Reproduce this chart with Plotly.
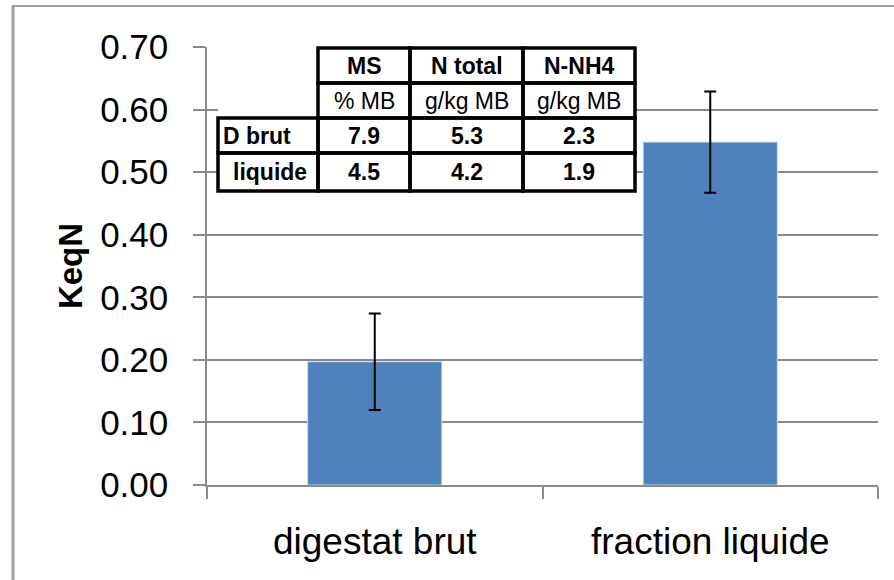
import plotly.graph_objects as go

# bar data
categories = ["digestat brut", "fraction liquide"]
keqn = [0.197, 0.548]
keqn_err = [0.077, 0.081]

# inset table
tab_cols = ["MS", "N total", "N-NH4"]
tab_units = ["% MB", "g/kg MB", "g/kg MB"]
tab_rows = ["D brut", "liquide"]
tab_vals = [["7.9", "5.3", "2.3"],
            ["4.5", "4.2", "1.9"]]

W, H = 894, 580
L, R, T, B = 207, 16, 47, 95
PW, PH = W - L - R, H - T - B

def px(x):
    return (x - L) / PW

def py(y):
    return (H - B - y) / PH

GRID = "#8a8a8a"
FONT = "Liberation Sans, Arial, sans-serif"

fig = go.Figure(go.Bar(
    x=categories, y=keqn,
    marker=dict(color="#4f81bd", line=dict(color="#d0dcea", width=1)),
    error_y=dict(type="data", array=keqn_err, color="black", thickness=2, width=6),
))

shapes = []
annotations = []

# table geometry (pixels)
col_x = [218, 318, 410, 523, 635]
row_y = [48, 83, 118, 153, 191]

# white background behind table (empty corner has no border)
shapes.append(dict(type="rect", xref="paper", yref="paper", layer="above",
                   x0=px(col_x[0]), x1=px(col_x[-1]), y0=py(row_y[0]), y1=py(row_y[-1]),
                   fillcolor="white", line=dict(width=0)))

def cell(r, c, text, bold, align="center", indent=0):
    shapes.append(dict(type="rect", xref="paper", yref="paper", layer="above",
                       x0=px(col_x[c]), x1=px(col_x[c + 1]),
                       y0=py(row_y[r]), y1=py(row_y[r + 1]),
                       line=dict(color="black", width=3.5), fillcolor="rgba(0,0,0,0)"))
    if align == "left":
        xa = px(col_x[c] + 3 + indent)
        xanchor = "left"
    else:
        xa = px((col_x[c] + col_x[c + 1]) / 2)
        xanchor = "center"
    annotations.append(dict(xref="paper", yref="paper", x=xa, xanchor=xanchor,
                            y=py((row_y[r] + row_y[r + 1]) / 2), yanchor="middle",
                            text="<b>%s</b>" % text if bold else text, showarrow=False,
                            font=dict(family=FONT, size=23, color="black")))

for j, name in enumerate(tab_cols):
    cell(0, j + 1, name, True)
    cell(1, j + 1, tab_units[j], False)
for i, name in enumerate(tab_rows):
    cell(i + 2, 0, name, True, align="left", indent=10 * i)
    for j, v in enumerate(tab_vals[i]):
        cell(i + 2, j + 1, v, True)

# outer frame of the chart area
shapes.append(dict(type="line", xref="paper", yref="paper", layer="above",
                   x0=px(12), x1=px(W), y0=py(6), y1=py(6),
                   line=dict(color="#a0a0a0", width=2)))
shapes.append(dict(type="line", xref="paper", yref="paper", layer="above",
                   x0=px(13), x1=px(13), y0=py(6), y1=py(H),
                   line=dict(color="#a0a0a0", width=3)))

fig.update_layout(
    width=W, height=H,
    margin=dict(l=L, r=R, t=T, b=B, autoexpand=False),
    paper_bgcolor="white", plot_bgcolor="white",
    bargap=0.6, showlegend=False,
    shapes=shapes, annotations=annotations,
    xaxis=dict(showline=True, linecolor=GRID, linewidth=1.5,
               ticks="outside", tickson="boundaries", ticklen=12, tickcolor=GRID, tickwidth=1.5,
               tickfont=dict(family=FONT, size=37, color="black"),
               ticklabelstandoff=23, showgrid=False),
    yaxis=dict(range=[0, 0.7], dtick=0.1, tickformat=".2f",
               showline=True, linecolor=GRID, linewidth=1.5,
               ticks="outside", ticklen=12, tickcolor=GRID, tickwidth=1.5,
               tickfont=dict(family=FONT, size=35, color="black"), ticklabelstandoff=18,
               showgrid=True, gridcolor=GRID, gridwidth=1.5, zeroline=False,
               title=dict(text="<b>KeqN</b>", standoff=8,
                          font=dict(family=FONT, size=33, color="black"))),
)

# drop the browser's default 8px body margin so the figure sits at the page origin
fig.write_html("out.html", config={"displayModeBar": False},
               post_script="document.body.style.margin='0';")
